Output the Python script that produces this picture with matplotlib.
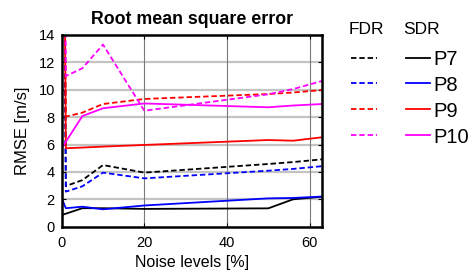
import matplotlib
matplotlib.use("Agg")
import matplotlib.pyplot as plt
from matplotlib.lines import Line2D

plt.rcParams['font.family'] = ['Liberation Sans', 'DejaVu Sans']

# noise levels [%]
noise = [0, 1, 5, 10, 20, 50, 56, 63]

# FDR (dashed) and SDR (solid) RMSE values [m/s]
fdr_p7 = [50, 2.97, 3.40, 4.50, 3.95, 4.58, 4.72, 4.92]
fdr_p8 = [50, 2.56, 2.95, 3.95, 3.53, 4.09, 4.22, 4.42]
fdr_p9 = [50, 8.04, 8.33, 8.96, 9.33, 9.69, 9.80, 9.98]
fdr_p10 = [50, 11.0, 11.57, 13.3, 8.47, 9.67, 10.05, 10.64]

sdr_p7 = [0.85, 0.95, 1.35, 1.35, 1.30, 1.34, 2.00, 2.19]
sdr_p8 = [2.07, 1.35, 1.46, 1.27, 1.55, 2.07, 2.10, 2.20]
sdr_p9 = [50, 5.73, 5.78, 5.85, 5.97, 6.33, 6.28, 6.53]
sdr_p10 = [5.73, 6.20, 8.08, 8.65, 9.00, 8.72, 8.85, 8.96]

names = ['P7', 'P8', 'P9', 'P10']
colors = ['black', '#0000ff', '#ff0000', '#ff00ff']
fdr = [fdr_p7, fdr_p8, fdr_p9, fdr_p10]
sdr = [sdr_p7, sdr_p8, sdr_p9, sdr_p10]

W, H = 471, 270
fig = plt.figure(figsize=(W / 100, H / 100), dpi=100)
ax = fig.add_axes([61.7 / W, 1 - 226.7 / H, (322 - 61.7) / W, (226.7 - 35) / H])

for yv in range(2, 14, 2):
    ax.axhline(yv, color='#c4c4c4', lw=1.6, zorder=0)
for xv in [20, 40, 60]:
    ax.axvline(xv, color='#7a7a7a', lw=0.8, zorder=0)

for f, s, c in zip(fdr, sdr, colors):
    ax.plot(noise, f, color=c, lw=1.3, ls=(0, (3, 1.6)))
    ax.plot(noise, s, color=c, lw=1.3)

ax.set_xlim(0, 63)
ax.set_ylim(0, 14)
ax.set_xticks([0, 20, 40, 60])
ax.set_yticks(range(0, 15, 2))
ax.tick_params(direction='in', length=3, width=0.8, top=True, right=True,
               labelsize=10.5)
ax.tick_params(axis='x', pad=7)
ax.tick_params(axis='y', pad=5)
for sp in ax.spines.values():
    sp.set_linewidth(1.8)

ax.set_title('Root mean square error', fontsize=12.8, fontweight='bold', pad=8)
ax.set_xlabel('Noise levels [%]', fontsize=11.5, labelpad=3)
ax.set_ylabel('RMSE [m/s]', fontsize=12, labelpad=6)

# legend drawn by hand: FDR column (dashed) and SDR column (solid)
fig.text(366 / W, 1 - 29 / H, 'FDR', fontsize=12.5, ha='center', va='center')
fig.text(421 / W, 1 - 29 / H, 'SDR', fontsize=12.5, ha='center', va='center')
for i, (n, c) in enumerate(zip(names, colors)):
    yy = 1 - (57.5 + i * 25.9) / H
    fig.add_artist(Line2D([351 / W, 377 / W], [yy, yy], color=c, lw=1.3,
                          ls=(0, (3, 1.6)), transform=fig.transFigure))
    fig.add_artist(Line2D([406 / W, 429.5 / W], [yy, yy], color=c, lw=1.3,
                          transform=fig.transFigure))
    fig.text(433 / W, yy - 2 / H, n, fontsize=14.5, ha='left', va='center')

fig.savefig('out.png', dpi=100)
